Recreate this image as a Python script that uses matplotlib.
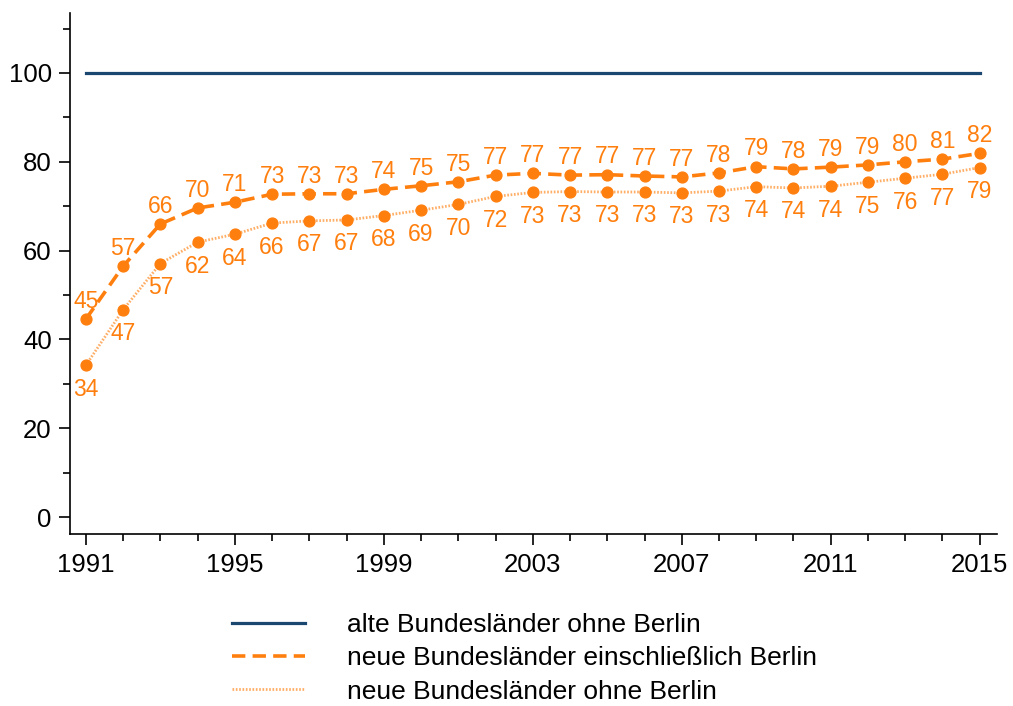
import matplotlib
matplotlib.use("Agg")
import matplotlib.pyplot as plt
from matplotlib.ticker import MultipleLocator
import numpy as np

plt.rcParams['font.family'] = ['Liberation Sans', 'DejaVu Sans']

years = np.arange(1991, 2016)
alte = [100] * len(years)
neue_mit = [44.6, 56.5, 66.0, 69.6, 70.9, 72.7, 72.8, 72.8, 73.8, 74.6, 75.5, 77.0, 77.4,
            77.0, 77.1, 76.8, 76.6, 77.5, 78.9, 78.4, 78.8, 79.3, 80.0, 80.6, 81.9]
neue_ohne = [34.2, 46.7, 57.1, 61.9, 63.7, 66.2, 66.7, 66.9, 67.9, 69.1, 70.4, 72.2, 73.1,
             73.3, 73.2, 73.2, 73.0, 73.4, 74.4, 74.1, 74.5, 75.4, 76.3, 77.2, 78.7]
labels_mit = [45, 57, 66, 70, 71, 73, 73, 73, 74, 75, 75, 77, 77, 77, 77, 77, 77, 78, 79, 78, 79, 79, 80, 81, 82]
labels_ohne = [34, 47, 57, 62, 64, 66, 67, 67, 68, 69, 70, 72, 73, 73, 73, 73, 73, 73, 74, 74, 74, 75, 76, 77, 79]

navy = '#1a476f'
orange = '#ff7f0e'
light_orange = '#ffae66'

fig = plt.figure(figsize=(10.13, 7.06), dpi=100)
ax = fig.add_axes([0.069, 0.2436, 0.915, 0.738])

ax.plot(years, alte, color=navy, lw=2.3, label='alte Bundesländer ohne Berlin')
ax.plot(years, neue_mit, color=orange, lw=2.6, dashes=(3.7, 2.0),
        label='neue Bundesländer einschließlich Berlin')
ax.plot(years, neue_ohne, color=light_orange, lw=2.0, dashes=(0.6, 0.6),
        label='neue Bundesländer ohne Berlin')
ax.plot(years, neue_mit, 'o', color=orange, ms=7.8)
ax.plot(years, neue_ohne, 'o', color=orange, ms=7.8)

for x, y, t in zip(years, neue_mit, labels_mit):
    ax.annotate(str(t), (x, y), xytext=(0, 4.5), textcoords='offset points',
                ha='center', va='bottom', color=orange, fontsize=16.5)
for x, y, t in zip(years, neue_ohne, labels_ohne):
    ax.annotate(str(t), (x, y), xytext=(0, -9), textcoords='offset points',
                ha='center', va='top', color=orange, fontsize=16.5)

ax.set_xlim(1990.57, 2015.46)
ax.set_ylim(-3.8, 113.5)
ax.set_xticks(np.arange(1991, 2016, 4))
ax.xaxis.set_minor_locator(MultipleLocator(1))
ax.set_yticks(np.arange(0, 101, 20))
ax.yaxis.set_minor_locator(MultipleLocator(10))
ax.tick_params(labelsize=18.5, length=8, width=1.2, colors='black')
ax.tick_params(which='minor', length=5, width=1.2)
ax.tick_params(axis='x', pad=6)
ax.tick_params(axis='y', pad=5)
for s in ['top', 'right']:
    ax.spines[s].set_visible(False)
for s in ['left', 'bottom']:
    ax.spines[s].set_linewidth(1.2)

fig.legend(loc='upper left', bbox_to_anchor=(0.229, 0.1315), frameon=False,
           fontsize=19, handlelength=2.77, labelspacing=0.35, handletextpad=1.6,
           borderaxespad=0, borderpad=0)

fig.savefig('out.png', dpi=100)
